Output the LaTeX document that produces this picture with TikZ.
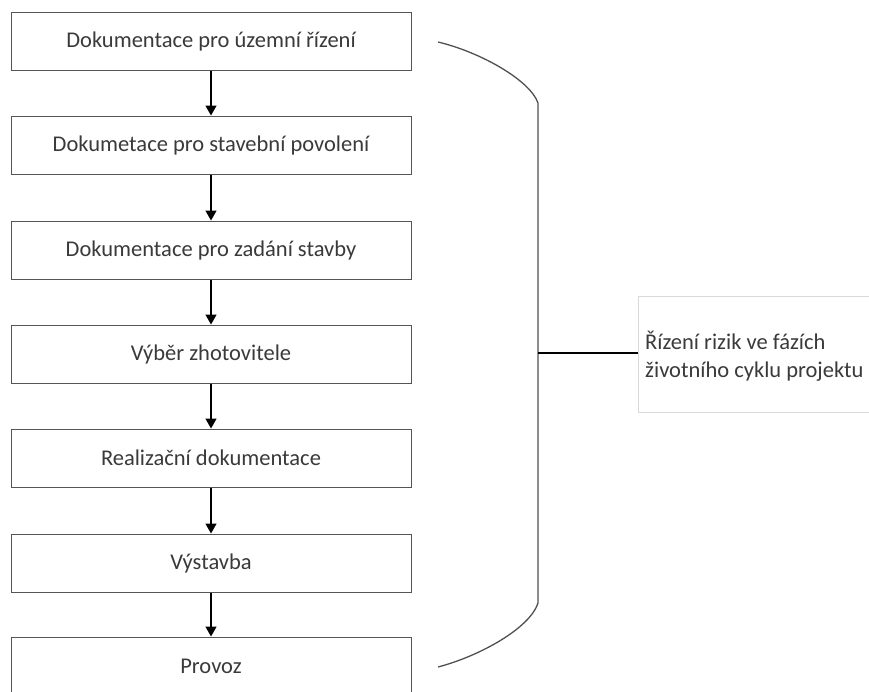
\documentclass[tikz,border=0pt]{standalone}
\usepackage{fontspec}
\setmainfont{Carlito}
\usetikzlibrary{arrows.meta}
\definecolor{boxline}{HTML}{555555}
\definecolor{txt}{HTML}{3A3A3A}
\definecolor{bracecol}{HTML}{505050}
\definecolor{lightline}{HTML}{D9D9D9}
\begin{document}
\begin{tikzpicture}[x=1pt,y=-1pt,
  phase/.style={draw=boxline,line width=1pt,minimum width=400pt,minimum height=58pt,inner sep=0pt,
     font=\fontsize{22.5}{26}\selectfont,text=txt},
  flow/.style={draw=black,line width=1.5pt,-{Triangle[width=11pt,length=10pt]}},
  bracel/.style={draw=bracecol,line width=1.3pt}]
\clip (0,0) rectangle (869,691);
\fill[white] (0,0) rectangle (869,691);
\node[phase] (b1) at (211,41) {Dokumentace pro územní řízení};
\node[phase] (b2) at (211,145) {Dokumetace pro stavební povolení};
\node[phase] (b3) at (211,250) {Dokumentace pro zadání stavby};
\node[phase] (b4) at (211,354) {Výběr zhotovitele};
\node[phase] (b5) at (211,458) {Realizační dokumentace};
\node[phase] (b6) at (211,563) {Výstavba};
\node[phase,minimum height=80pt] (b7) at (211,677) {};
\node[font=\fontsize{22.5}{26}\selectfont,text=txt] (t7) at (211,666) {Provoz};
\draw[flow] (b1) -- (b2);
\draw[flow] (b2) -- (b3);
\draw[flow] (b3) -- (b4);
\draw[flow] (b4) -- (b5);
\draw[flow] (b5) -- (b6);
\draw[flow] (b6) -- (b7);
\coordinate (bs) at (438,42);
\coordinate (bt) at (538,103);
\coordinate (bm) at (538,353);
\coordinate (bb) at (538,603);
\coordinate (be) at (438,667);
\draw[bracel] (bs) .. controls (480,52) and (530,80) .. (bt) -- (bb) .. controls (530,628) and (480,656) .. (be);
\node[draw=lightline,line width=1pt,minimum width=231pt,minimum height=116pt,inner sep=0pt,anchor=west] (rb) at (638,354) {};
\node[font=\fontsize{22.5}{28}\selectfont,text=txt,align=left,anchor=west,inner sep=0pt] (rt) at (645,356) {Řízení rizik ve fázích\\životního cyklu projektu};
\draw[draw=black,line width=1.3pt] (bm) -- (bm -| rb.west);
\end{tikzpicture}
\end{document}
